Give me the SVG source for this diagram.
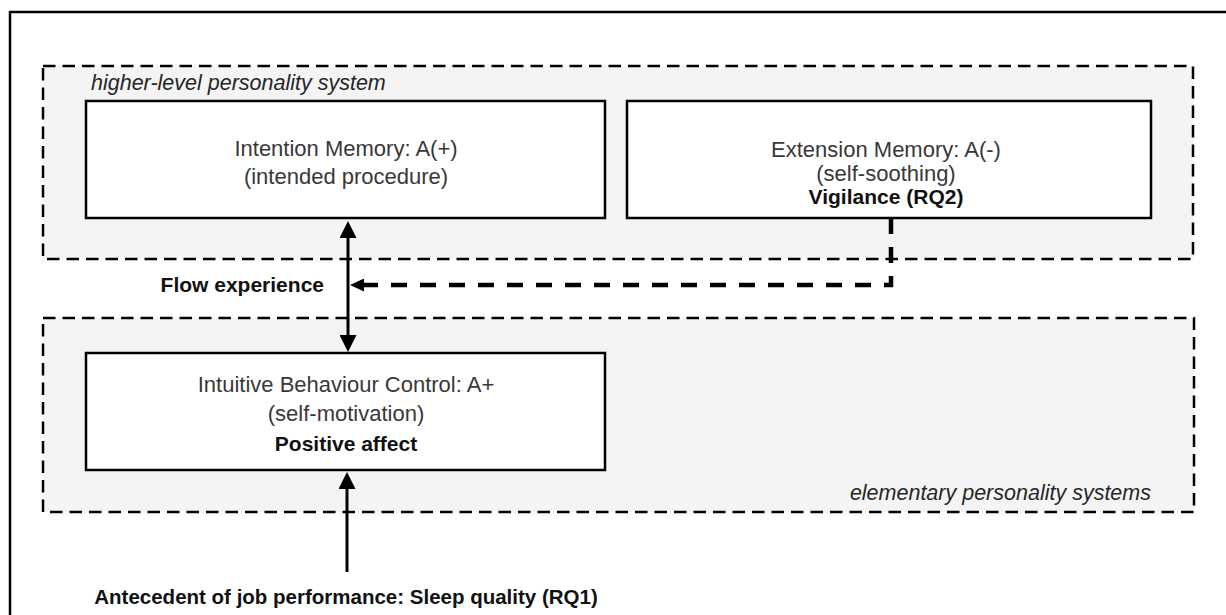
<svg xmlns="http://www.w3.org/2000/svg" width="1226" height="615" viewBox="0 0 1226 615">
  <style>
    .frame { fill: none; stroke: #000; stroke-width: 2.5; }
    .region { fill: #f4f4f4; stroke: #000; stroke-width: 2.5; stroke-dasharray: 12.5 7; }
    .box { fill: #fff; stroke: #000; stroke-width: 2.5; }
    .txt { font-family: "Liberation Sans", Arial, sans-serif; font-size: 22px; fill: #383838; text-anchor: middle; }
    .bold { font-family: "Liberation Sans", Arial, sans-serif; font-size: 21px; font-weight: bold; fill: #111; text-anchor: middle; }
    .bold.end { text-anchor: end; }
    .region-label { font-family: "Liberation Sans", Arial, sans-serif; font-size: 21.5px; font-style: italic; fill: #262626; }
    .region-label.end { text-anchor: end; }
    .solid { fill: none; stroke: #000; stroke-width: 3; }
    .dashed { fill: none; stroke: #000; stroke-width: 4.5; stroke-dasharray: 16 13; }
  </style>
  <defs>
    <marker id="head" viewBox="0 0 17 17" refX="13" refY="8.5" markerWidth="17" markerHeight="17" markerUnits="userSpaceOnUse" orient="auto-start-reverse">
      <path d="M0,0 L17,8.5 L0,17 Z" fill="#000"/>
    </marker>
    <marker id="head-small" viewBox="0 0 14 13" refX="10" refY="6.5" markerWidth="14" markerHeight="13" markerUnits="userSpaceOnUse" orient="auto">
      <path d="M0,0 L14,6.5 L0,13 Z" fill="#000"/>
    </marker>
  </defs>

  <!-- outer frame (runs past the right and bottom edges) -->
  <rect class="frame" x="10" y="12" width="1300" height="700"/>

  <!-- system regions -->
  <g id="higher-level-system">
    <rect class="region" x="43" y="66" width="1150" height="193"/>
    <text class="region-label" x="91" y="90">higher-level personality system</text>
  </g>
  <g id="elementary-systems">
    <rect class="region" x="43" y="318" width="1151" height="194"/>
    <text class="region-label end" x="1151" y="500">elementary personality systems</text>
  </g>

  <!-- nodes -->
  <g id="intention-memory">
    <rect class="box" x="86" y="101" width="519" height="117"/>
    <text class="txt" x="346" y="156">Intention Memory: A(+)</text>
    <text class="txt" x="346" y="184">(intended procedure)</text>
  </g>
  <g id="extension-memory">
    <rect class="box" x="627" y="101" width="524" height="117"/>
    <text class="txt" x="886" y="157">Extension Memory: A(-)</text>
    <text class="txt" x="886" y="181">(self-soothing)</text>
    <text class="bold" x="886" y="204">Vigilance (RQ2)</text>
  </g>
  <g id="intuitive-behaviour-control">
    <rect class="box" x="86" y="353" width="519" height="117"/>
    <text class="txt" x="346" y="392">Intuitive Behaviour Control: A+</text>
    <text class="txt" x="346" y="421">(self-motivation)</text>
    <text class="bold" x="346" y="451">Positive affect</text>
  </g>

  <!-- connectors -->
  <g id="connectors">
    <path class="solid" d="M348,225 V348" marker-start="url(#head)" marker-end="url(#head)"/>
    <path class="dashed" d="M891,218 V285 H354" marker-end="url(#head-small)"/>
    <path class="solid" d="M347,572 V476" marker-end="url(#head)"/>
  </g>

  <!-- connector labels -->
  <g id="labels">
    <text class="bold end" x="324" y="292">Flow experience</text>
    <text class="bold" x="346" y="604" style="font-size:20.5px">Antecedent of job performance: Sleep quality (RQ1)</text>
  </g>
</svg>
